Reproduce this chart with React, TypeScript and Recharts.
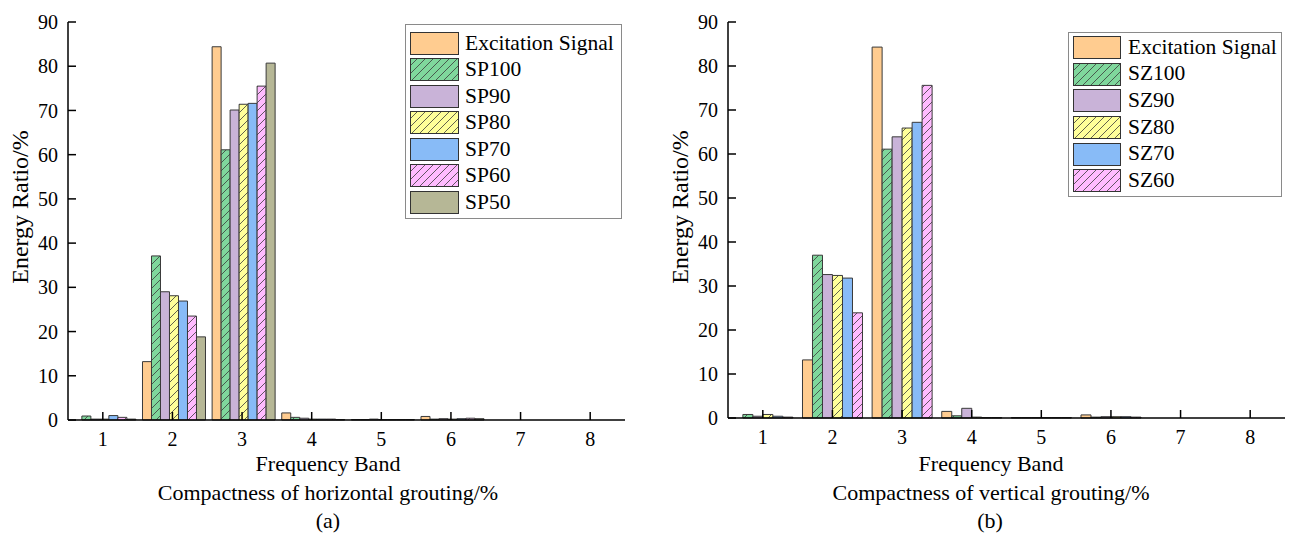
import React from 'react';
import { BarChart, Bar, XAxis, YAxis, Legend } from 'recharts';

const FONT = "'Liberation Serif', 'Times New Roman', serif";

const bands = ['1', '2', '3', '4', '5', '6', '7', '8'];
const yTicks = [0, 10, 20, 30, 40, 50, 60, 70, 80, 90];
const yMinorTicks = [5, 15, 25, 35, 45, 55, 65, 75, 85];
const xMinorTicks = [1.5, 2.5, 3.5, 4.5, 5.5, 6.5, 7.5];

// Panel (a): horizontal grouting
const excitationA = [0, 13.2, 84.4, 1.6, 0.1, 0.8, 0, 0];
const sp100 = [0.9, 37.1, 61.1, 0.6, 0.1, 0.2, 0, 0];
const sp90 = [0.2, 29.0, 70.1, 0.4, 0.2, 0.3, 0, 0];
const sp80 = [0.2, 28.1, 71.4, 0.2, 0.1, 0.2, 0, 0];
const sp70 = [1.0, 26.9, 71.6, 0.2, 0.1, 0.3, 0, 0];
const sp60 = [0.6, 23.5, 75.5, 0.2, 0.1, 0.4, 0, 0];
const sp50 = [0.2, 18.8, 80.7, 0.1, 0.1, 0.3, 0, 0];

// Panel (b): vertical grouting
const excitationB = [0, 13.2, 84.3, 1.5, 0.1, 0.7, 0, 0];
const sz100 = [0.8, 37.0, 61.1, 0.5, 0.1, 0.2, 0, 0];
const sz90 = [0.4, 32.6, 63.9, 2.2, 0.1, 0.3, 0, 0];
const sz80 = [0.8, 32.4, 65.9, 0.2, 0.1, 0.3, 0, 0];
const sz70 = [0.4, 31.8, 67.2, 0.1, 0.1, 0.3, 0, 0];
const sz60 = [0.2, 23.9, 75.6, 0.1, 0.1, 0.2, 0, 0];

const C_EXC = '#FFCC90';
const C_GREEN = '#7FD79C';
const C_LAV = '#C9B3D8';
const C_YEL = '#FFFF99';
const C_BLUE = '#88BBF7';
const C_PINK = '#FFBBFF';
const C_KHAKI = '#B6B796';

type Series = { key: string; name: string; values: number[]; fill: string };

const seriesA: Series[] = [
  { key: 'exc', name: 'Excitation Signal', values: excitationA, fill: C_EXC },
  { key: 'sp100', name: 'SP100', values: sp100, fill: 'url(#hatchGreen)' },
  { key: 'sp90', name: 'SP90', values: sp90, fill: C_LAV },
  { key: 'sp80', name: 'SP80', values: sp80, fill: 'url(#hatchYellow)' },
  { key: 'sp70', name: 'SP70', values: sp70, fill: C_BLUE },
  { key: 'sp60', name: 'SP60', values: sp60, fill: 'url(#hatchPink)' },
  { key: 'sp50', name: 'SP50', values: sp50, fill: C_KHAKI },
];

const seriesB: Series[] = [
  { key: 'exc', name: 'Excitation Signal', values: excitationB, fill: C_EXC },
  { key: 'sz100', name: 'SZ100', values: sz100, fill: 'url(#hatchGreen)' },
  { key: 'sz90', name: 'SZ90', values: sz90, fill: C_LAV },
  { key: 'sz80', name: 'SZ80', values: sz80, fill: 'url(#hatchYellow)' },
  { key: 'sz70', name: 'SZ70', values: sz70, fill: C_BLUE },
  { key: 'sz60', name: 'SZ60', values: sz60, fill: 'url(#hatchPink)' },
];

const buildData = (series: Series[]) =>
  bands.map((b, i) => {
    const row: Record<string, any> = { band: b };
    series.forEach((s) => {
      row[s.key] = s.values[i];
    });
    return row;
  });

const dataA = buildData(seriesA);
const dataB = buildData(seriesB);

const Hatch = ({ id, color }: { id: string; color: string }) => (
  <pattern id={id} patternUnits="userSpaceOnUse" width="8" height="8">
    <rect width="8" height="8" fill={color} />
    <path d="M-2,2 L2,-2 M0,8 L8,0 M6,10 L10,6" stroke="#3a3a3a" strokeWidth="0.8" />
  </pattern>
);

const tickStyle = { fontSize: 20, fill: '#000', fontFamily: FONT };

type PanelProps = {
  data: any[];
  series: Series[];
  left: number;
  margin: { top: number; right: number; bottom: number; left: number };
  legend: { left: number; top: number; width: number; row: number; padTop: number; swatchW: number; gap: number };
};

const LegendBox = ({ series, cfg }: { series: Series[]; cfg: PanelProps['legend'] }) => (
  <div
    style={{
      border: '1px solid #8a8a8a',
      background: '#fff',
      boxSizing: 'border-box',
      width: cfg.width,
      padding: `${cfg.padTop}px 4px 2px 4px`,
      fontFamily: FONT,
    }}
  >
    {series.map((s) => (
      <div key={s.key} style={{ display: 'flex', alignItems: 'center', height: cfg.row }}>
        <svg width={cfg.swatchW} height={23} style={{ display: 'block', flex: 'none' }}>
          <rect x={0.5} y={0.5} width={cfg.swatchW - 1} height={22} fill={s.fill} stroke="#333" strokeWidth={1} />
        </svg>
        <span style={{ marginLeft: cfg.gap, fontSize: 21.5, color: '#000', whiteSpace: 'nowrap', lineHeight: 1 }}>{s.name}</span>
      </div>
    ))}
  </div>
);

const Panel = ({ data, series, left, margin, legend }: PanelProps) => (
  <div style={{ position: 'absolute', left, top: 0, fontFamily: FONT }}>
    <BarChart
      width={640}
      height={533}
      data={data}
      margin={margin}
      barCategoryGap="7%"
      barGap={0}
      style={{ fontFamily: FONT }}
    >
      <XAxis
        xAxisId="minor"
        type="number"
        domain={[0.5, 8.5]}
        ticks={xMinorTicks}
        allowDataOverflow
        height={0}
        tick={false}
        tickSize={-4}
        axisLine={false}
        tickLine={{ stroke: '#000', strokeWidth: 1.5 }}
      />
      <XAxis
        xAxisId="main"
        dataKey="band"
        height={40}
        tickSize={-8}
        tickMargin={20}
        tick={tickStyle}
        axisLine={{ stroke: '#000', strokeWidth: 1.5 }}
        tickLine={{ stroke: '#000', strokeWidth: 1.5 }}
        interval={0}
      />
      <XAxis
        xAxisId="top"
        orientation="top"
        dataKey="band"
        height={0}
        tick={false}
        tickLine={false}
        axisLine={{ stroke: '#000', strokeWidth: 1.5 }}
      />
      <YAxis
        yAxisId="minor"
        domain={[0, 90]}
        ticks={yMinorTicks}
        width={0}
        tick={false}
        tickSize={-4}
        axisLine={false}
        tickLine={{ stroke: '#000', strokeWidth: 1.5 }}
      />
      <YAxis
        yAxisId="main"
        domain={[0, 90]}
        ticks={yTicks}
        width={60}
        tickSize={-8}
        tickMargin={18}
        tick={tickStyle}
        axisLine={{ stroke: '#000', strokeWidth: 1.5 }}
        tickLine={{ stroke: '#000', strokeWidth: 1.5 }}
        interval={0}
      />
      <YAxis
        yAxisId="right"
        orientation="right"
        domain={[0, 90]}
        width={0}
        tick={false}
        tickLine={false}
        axisLine={{ stroke: '#000', strokeWidth: 1.5 }}
      />
      <Legend
        layout="vertical"
        align="center"
        verticalAlign="middle"
        wrapperStyle={{ left: legend.left, top: legend.top, width: legend.width }}
        content={() => <LegendBox series={series} cfg={legend} />}
      />
      {series.map((s) => (
        <Bar
          key={s.key}
          dataKey={s.key}
          name={s.name}
          xAxisId="main"
          yAxisId="main"
          fill={s.fill}
          stroke="#3a3a3a"
          strokeWidth={1}
          isAnimationActive={false}
        />
      ))}
    </BarChart>
  </div>
);

export default function App() {
  return (
    <div style={{ position: 'absolute', left: 0, top: 0, width: 1290, height: 533, background: '#fff', overflow: 'hidden', fontFamily: FONT }}>
      <svg width={0} height={0} style={{ position: 'absolute' }}>
        <defs>
          <Hatch id="hatchGreen" color={C_GREEN} />
          <Hatch id="hatchYellow" color={C_YEL} />
          <Hatch id="hatchPink" color={C_PINK} />
        </defs>
      </svg>
      <Panel
        data={dataA}
        series={seriesA}
        left={0}
        margin={{ top: 22, right: 15, bottom: 73, left: 8 }}
        legend={{ left: 405, top: 24, width: 217, row: 26.5, padTop: 5, swatchW: 49, gap: 6 }}
      />
      <Panel
        data={dataB}
        series={seriesB}
        left={650}
        margin={{ top: 22, right: 5, bottom: 75, left: 18 }}
        legend={{ left: 418, top: 32, width: 214, row: 26.7, padTop: 1, swatchW: 48, gap: 7 }}
      />
      <svg width={1290} height={533} style={{ position: 'absolute', left: 0, top: 0, pointerEvents: 'none' }}>
        <g fontFamily={FONT} fill="#000" textAnchor="middle">
          <text x={28} y={207} fontSize={24} transform="rotate(-90 28 207)">Energy Ratio/%</text>
          <text x={328} y={471} fontSize={22}>Frequency Band</text>
          <text x={328} y={500} fontSize={22}>Compactness of horizontal grouting/%</text>
          <text x={328} y={528} fontSize={22}>(a)</text>
          <text x={688} y={207} fontSize={24} transform="rotate(-90 688 207)">Energy Ratio/%</text>
          <text x={991} y={471} fontSize={22}>Frequency Band</text>
          <text x={991} y={500} fontSize={22}>Compactness of vertical grouting/%</text>
          <text x={990} y={528} fontSize={22}>(b)</text>
        </g>
      </svg>
    </div>
  );
}
